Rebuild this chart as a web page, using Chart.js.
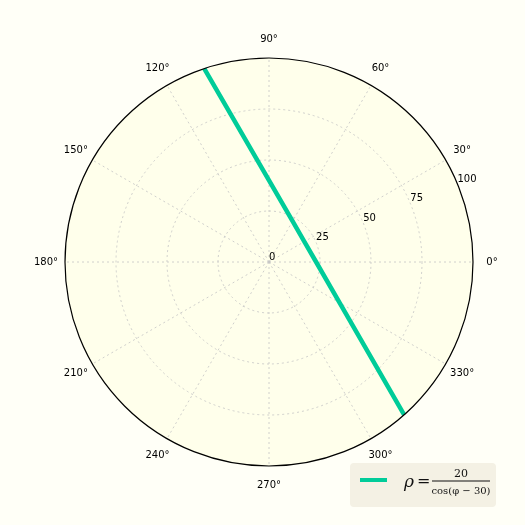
<!DOCTYPE html>
<html>
<head>
<meta charset="utf-8">
<script src="https://cdn.jsdelivr.net/npm/chart.js@4"></script>
<style>
  html, body { margin: 0; padding: 0; background: #fffff7; }
  #wrap { width: 525px; height: 525px; }
</style>
</head>
<body>
<div id="wrap"><canvas id="polarChart" width="525" height="525"></canvas></div>
<script>
// line rho = 20 / cos(phi - 30) (degrees, radius)
const phiDeg = [108.5, 90, 60, 30, 0, -30, -48.5];
const rhoVals = [100, 40, 23.1, 20, 23.1, 40, 100];
const radialTicks = [0, 25, 50, 75, 100];
const angleTicks = [0, 30, 60, 90, 120, 150, 180, 210, 240, 270, 300, 330];
const rMax = 100;

const toRad = d => d * Math.PI / 180;
const points = phiDeg.map((p, i) => ({
    x: rhoVals[i] * Math.cos(toRad(p)),
    y: rhoVals[i] * Math.sin(toRad(p))
}));

// grid, spine and tick labels, drawn through the x/y scales
const polarGrid = {
    id: 'polarGrid',
    beforeDatasetsDraw(chart) {
        const ctx = chart.ctx;
        const xs = chart.scales.x, ys = chart.scales.y;
        const cx = xs.getPixelForValue(0), cy = ys.getPixelForValue(0);
        const R = xs.getPixelForValue(rMax) - cx;
        ctx.save();
        ctx.fillStyle = '#ffffeb';
        ctx.beginPath();
        ctx.arc(cx, cy, R, 0, Math.PI * 2);
        ctx.fill();

        ctx.strokeStyle = '#c4c4c4';
        ctx.lineWidth = 0.8;
        ctx.setLineDash([2, 3]);
        radialTicks.forEach(r => {
            if (r === 0 || r === rMax) return;
            ctx.beginPath();
            ctx.arc(cx, cy, xs.getPixelForValue(r) - cx, 0, Math.PI * 2);
            ctx.stroke();
        });
        angleTicks.forEach(a => {
            ctx.beginPath();
            ctx.moveTo(cx, cy);
            ctx.lineTo(xs.getPixelForValue(rMax * Math.cos(toRad(a))), ys.getPixelForValue(rMax * Math.sin(toRad(a))));
            ctx.stroke();
        });
        ctx.restore();
    },
    afterDatasetsDraw(chart) {
        const ctx = chart.ctx;
        const xs = chart.scales.x, ys = chart.scales.y;
        const cx = xs.getPixelForValue(0), cy = ys.getPixelForValue(0);
        const R = xs.getPixelForValue(rMax) - cx;
        ctx.save();
        ctx.strokeStyle = '#000';
        ctx.lineWidth = 1.2;
        ctx.beginPath();
        ctx.arc(cx, cy, R, 0, Math.PI * 2);
        ctx.stroke();

        ctx.fillStyle = '#000';
        ctx.font = '10px "DejaVu Sans"';
        ctx.textAlign = 'center';
        ctx.textBaseline = 'middle';
        angleTicks.forEach(a => {
            const d = R + 19;
            ctx.fillText(a + '°', cx + d * Math.cos(toRad(a)), cy - d * Math.sin(toRad(a)));
        });
        ctx.textAlign = 'left';
        ctx.textBaseline = 'bottom';
        radialTicks.forEach(r => {
            const px = xs.getPixelForValue(r * Math.cos(toRad(22.5)));
            const py = ys.getPixelForValue(r * Math.sin(toRad(22.5)));
            ctx.fillText(String(r), px, py);
        });
        ctx.restore();
    }
};

// legend with the formula
const formulaLegend = {
    id: 'formulaLegend',
    afterDraw(chart) {
        const ctx = chart.ctx;
        ctx.save();
        ctx.fillStyle = '#f4f1e4';
        ctx.beginPath();
        ctx.roundRect(350, 463, 146, 44, 4);
        ctx.fill();

        ctx.strokeStyle = '#00cc99';
        ctx.lineWidth = 4;
        ctx.beginPath();
        ctx.moveTo(360, 480);
        ctx.lineTo(387, 480);
        ctx.stroke();

        ctx.fillStyle = '#111';
        ctx.textBaseline = 'alphabetic';
        ctx.font = 'italic 17px "DejaVu Serif"';
        ctx.textAlign = 'left';
        ctx.fillText('ρ', 404, 487);
        ctx.font = '16px "DejaVu Serif"';
        ctx.fillText('=', 417, 486);
        ctx.fillRect(432, 480.5, 58, 1);
        ctx.textAlign = 'center';
        ctx.font = '11px "DejaVu Serif"';
        ctx.fillText('20', 461, 477);
        ctx.font = '10px "DejaVu Serif"';
        ctx.fillText('cos(φ − 30)', 461, 494);
        ctx.restore();
    }
};

new Chart(document.getElementById('polarChart'), {
    type: 'scatter',
    data: {
        datasets: [{
            label: 'rho',
            data: points,
            showLine: true,
            borderColor: '#00cc99',
            borderWidth: 4.5,
            pointRadius: 0,
            fill: false
        }]
    },
    options: {
        responsive: false,
        animation: false,
        layout: { padding: { left: 65, right: 52, top: 58, bottom: 59 } },
        scales: {
            x: { type: 'linear', min: -rMax, max: rMax, display: false },
            y: { type: 'linear', min: -rMax, max: rMax, display: false }
        },
        plugins: { legend: { display: false }, tooltip: { enabled: false } }
    },
    plugins: [polarGrid, formulaLegend]
});
</script>
</body>
</html>
